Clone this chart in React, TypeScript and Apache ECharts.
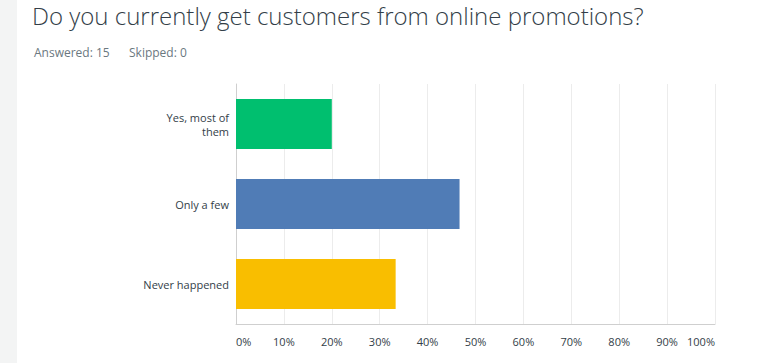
import React, { useEffect, useRef } from "react";
import * as echarts from "echarts";

const categories = ["Yes, most of\nthem", "Only a few", "Never happened"];
const values = [20, 46.67, 33.33];
const barColors = ["#00bf6f", "#507cb6", "#f9be00"];
const titleText = "Do you currently get customers from online promotions?";
const answeredText = "Answered: 15";
const skippedText = "Skipped: 0";

const FONT = "'Open Sans', 'Noto Sans', sans-serif";

export default function App() {
  const ref = useRef<HTMLDivElement>(null);
  useEffect(() => {
    document.body.style.margin = "0";
    const chart = echarts.init(ref.current!, null, { renderer: "svg" });
    chart.setOption({
      animation: false,
      backgroundColor: "#ffffff",
      title: [
        {
          text: titleText,
          left: 32,
          top: 3,
          padding: 0,
          textStyle: { fontFamily: FONT, fontSize: 24, fontWeight: 300, color: "#333e48" },
        },
        {
          text: answeredText,
          left: 34,
          top: 46,
          padding: 0,
          textStyle: { fontFamily: FONT, fontSize: 12, fontWeight: "normal", color: "#6b787f" },
        },
        {
          text: skippedText,
          left: 129,
          top: 46,
          padding: 0,
          textStyle: { fontFamily: FONT, fontSize: 12, fontWeight: "normal", color: "#6b787f" },
        },
      ],
      graphic: [
        {
          type: "rect",
          left: 0,
          top: 0,
          shape: { x: 0, y: 0, width: 17, height: 363 },
          style: { fill: "#f3f4f4" },
          silent: true,
        },
      ],
      grid: { left: 236, right: 61, top: 84, bottom: 39, containLabel: false },
      xAxis: {
        type: "value",
        min: 0,
        max: 100,
        interval: 10,
        axisLine: { show: true, lineStyle: { color: "#cfcfcf", width: 1 } },
        axisTick: { show: false },
        splitLine: { show: true, lineStyle: { color: "#ececec", width: 1 } },
        axisLabel: {
          formatter: "{value}%",
          fontFamily: FONT,
          fontSize: 11,
          color: "#333e48",
          margin: 12,
          alignMinLabel: "left",
          alignMaxLabel: "right",
        },
      },
      yAxis: {
        type: "category",
        data: categories,
        inverse: true,
        axisLine: { show: true, lineStyle: { color: "#cfcfcf", width: 1 } },
        axisTick: { show: false },
        axisLabel: {
          fontFamily: FONT,
          fontSize: 11,
          color: "#333e48",
          margin: 7,
          lineHeight: 14,
          align: "right",
        },
      },
      series: [
        {
          type: "bar",
          data: values.map((v, i) => ({ value: v, itemStyle: { color: barColors[i] } })),
          barWidth: 50,
        },
      ],
    });
    return () => chart.dispose();
  }, []);
  return (
    <div
      ref={ref}
      style={{ position: "fixed", left: 0, top: 0, width: 776, height: 363 }}
    />
  );
}
